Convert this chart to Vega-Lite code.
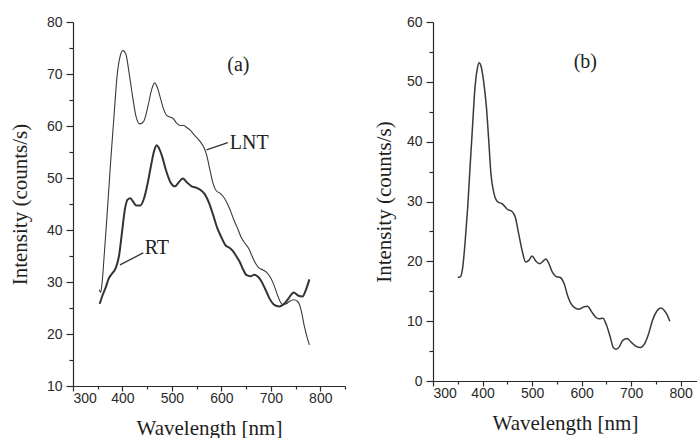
{
  "$schema": "https://vega.github.io/schema/vega-lite/v6.json",
  "padding": {"left": 9, "top": 15, "right": 0, "bottom": 0},
  "background": "white",
  "spacing": 27,
  "config": {
    "view": {"stroke": null},
    "axis": {
      "grid": false,
      "domainColor": "#2a2a2a",
      "tickColor": "#2a2a2a",
      "labelColor": "#2a2a2a",
      "titleColor": "#1e1e1e",
      "labelFont": "Liberation Sans",
      "labelFontSize": 14,
      "titleFont": "Liberation Serif",
      "titleFontSize": 21,
      "titleFontWeight": "normal",
      "domainWidth": 1.2,
      "tickWidth": 1.2
    }
  },
  "datasets": {
    "a": [
      {"wl": 353, "I": 28.5, "s": "LNT"}, {"wl": 356, "I": 28, "s": "LNT"}, {"wl": 359, "I": 30, "s": "LNT"},
      {"wl": 363, "I": 35, "s": "LNT"}, {"wl": 369, "I": 43, "s": "LNT"}, {"wl": 376, "I": 53, "s": "LNT"},
      {"wl": 383, "I": 62, "s": "LNT"}, {"wl": 389, "I": 69.5, "s": "LNT"}, {"wl": 395, "I": 73.3, "s": "LNT"},
      {"wl": 401, "I": 74.5, "s": "LNT"}, {"wl": 407, "I": 73.8, "s": "LNT"}, {"wl": 413, "I": 70.5, "s": "LNT"},
      {"wl": 420, "I": 66, "s": "LNT"}, {"wl": 427, "I": 62, "s": "LNT"}, {"wl": 435, "I": 60.4, "s": "LNT"},
      {"wl": 443, "I": 60.9, "s": "LNT"}, {"wl": 452, "I": 64, "s": "LNT"}, {"wl": 459, "I": 67, "s": "LNT"},
      {"wl": 465, "I": 68.3, "s": "LNT"}, {"wl": 471, "I": 67.3, "s": "LNT"}, {"wl": 477, "I": 65.3, "s": "LNT"},
      {"wl": 483, "I": 63.3, "s": "LNT"}, {"wl": 490, "I": 62, "s": "LNT"}, {"wl": 497, "I": 61.7, "s": "LNT"},
      {"wl": 503, "I": 61.4, "s": "LNT"}, {"wl": 510, "I": 60.5, "s": "LNT"}, {"wl": 517, "I": 60.1, "s": "LNT"},
      {"wl": 524, "I": 60.1, "s": "LNT"}, {"wl": 530, "I": 59.7, "s": "LNT"}, {"wl": 537, "I": 59.2, "s": "LNT"},
      {"wl": 545, "I": 58.3, "s": "LNT"}, {"wl": 552, "I": 57.6, "s": "LNT"}, {"wl": 558, "I": 56.9, "s": "LNT"},
      {"wl": 564, "I": 56, "s": "LNT"}, {"wl": 570, "I": 54.5, "s": "LNT"}, {"wl": 577, "I": 51.5, "s": "LNT"},
      {"wl": 583, "I": 49, "s": "LNT"}, {"wl": 590, "I": 47.5, "s": "LNT"}, {"wl": 597, "I": 47.1, "s": "LNT"},
      {"wl": 604, "I": 46.4, "s": "LNT"}, {"wl": 611, "I": 45.3, "s": "LNT"}, {"wl": 618, "I": 43.8, "s": "LNT"},
      {"wl": 625, "I": 42, "s": "LNT"}, {"wl": 632, "I": 40.5, "s": "LNT"}, {"wl": 640, "I": 38.6, "s": "LNT"},
      {"wl": 648, "I": 37.4, "s": "LNT"}, {"wl": 655, "I": 36.5, "s": "LNT"}, {"wl": 662, "I": 35, "s": "LNT"},
      {"wl": 669, "I": 33.6, "s": "LNT"}, {"wl": 676, "I": 32.7, "s": "LNT"}, {"wl": 684, "I": 32.3, "s": "LNT"},
      {"wl": 692, "I": 31.8, "s": "LNT"}, {"wl": 699, "I": 30.9, "s": "LNT"}, {"wl": 706, "I": 29.5, "s": "LNT"},
      {"wl": 713, "I": 27.6, "s": "LNT"}, {"wl": 719, "I": 26.2, "s": "LNT"}, {"wl": 725, "I": 25.6, "s": "LNT"},
      {"wl": 731, "I": 25.8, "s": "LNT"}, {"wl": 738, "I": 26.3, "s": "LNT"}, {"wl": 746, "I": 26.6, "s": "LNT"},
      {"wl": 754, "I": 26.3, "s": "LNT"}, {"wl": 761, "I": 24.7, "s": "LNT"}, {"wl": 768, "I": 21.4, "s": "LNT"},
      {"wl": 773, "I": 19.5, "s": "LNT"}, {"wl": 778, "I": 17.9, "s": "LNT"},
      {"wl": 354, "I": 25.8, "s": "RT"}, {"wl": 360, "I": 27.5, "s": "RT"}, {"wl": 366, "I": 28.9, "s": "RT"},
      {"wl": 372, "I": 30.6, "s": "RT"}, {"wl": 378, "I": 31.5, "s": "RT"}, {"wl": 386, "I": 32.6, "s": "RT"},
      {"wl": 393, "I": 35, "s": "RT"}, {"wl": 399, "I": 39.5, "s": "RT"}, {"wl": 405, "I": 44, "s": "RT"},
      {"wl": 410, "I": 45.8, "s": "RT"}, {"wl": 416, "I": 46.1, "s": "RT"}, {"wl": 422, "I": 45.4, "s": "RT"},
      {"wl": 428, "I": 44.7, "s": "RT"}, {"wl": 436, "I": 44.7, "s": "RT"}, {"wl": 444, "I": 46.2, "s": "RT"},
      {"wl": 451, "I": 49, "s": "RT"}, {"wl": 458, "I": 52.5, "s": "RT"}, {"wl": 464, "I": 55.2, "s": "RT"},
      {"wl": 469, "I": 56.3, "s": "RT"}, {"wl": 474, "I": 55.7, "s": "RT"}, {"wl": 480, "I": 54.2, "s": "RT"},
      {"wl": 488, "I": 51.5, "s": "RT"}, {"wl": 497, "I": 49.2, "s": "RT"}, {"wl": 506, "I": 48.4, "s": "RT"},
      {"wl": 515, "I": 49.3, "s": "RT"}, {"wl": 522, "I": 49.9, "s": "RT"}, {"wl": 530, "I": 49.2, "s": "RT"},
      {"wl": 540, "I": 48.4, "s": "RT"}, {"wl": 550, "I": 48.1, "s": "RT"}, {"wl": 558, "I": 47.7, "s": "RT"},
      {"wl": 567, "I": 46.8, "s": "RT"}, {"wl": 575, "I": 45.2, "s": "RT"}, {"wl": 583, "I": 43, "s": "RT"},
      {"wl": 592, "I": 40.3, "s": "RT"}, {"wl": 600, "I": 38.6, "s": "RT"}, {"wl": 608, "I": 37.1, "s": "RT"},
      {"wl": 616, "I": 36.6, "s": "RT"}, {"wl": 623, "I": 36, "s": "RT"}, {"wl": 630, "I": 35, "s": "RT"},
      {"wl": 637, "I": 33.9, "s": "RT"}, {"wl": 644, "I": 32.4, "s": "RT"}, {"wl": 651, "I": 31.3, "s": "RT"},
      {"wl": 659, "I": 31.1, "s": "RT"}, {"wl": 667, "I": 31.4, "s": "RT"}, {"wl": 673, "I": 31.1, "s": "RT"},
      {"wl": 680, "I": 30.3, "s": "RT"}, {"wl": 688, "I": 28.8, "s": "RT"}, {"wl": 697, "I": 26.9, "s": "RT"},
      {"wl": 707, "I": 25.6, "s": "RT"}, {"wl": 717, "I": 25.3, "s": "RT"}, {"wl": 727, "I": 25.8, "s": "RT"},
      {"wl": 737, "I": 27, "s": "RT"}, {"wl": 746, "I": 28, "s": "RT"}, {"wl": 755, "I": 27.4, "s": "RT"},
      {"wl": 764, "I": 27.2, "s": "RT"}, {"wl": 771, "I": 28.5, "s": "RT"}, {"wl": 778, "I": 30.5, "s": "RT"}
    ],
    "b": [
      {"wl": 350, "I": 17.3}, {"wl": 355, "I": 17.4}, {"wl": 360, "I": 19}, {"wl": 365, "I": 23.4},
      {"wl": 370, "I": 29}, {"wl": 375, "I": 36}, {"wl": 380, "I": 42.8}, {"wl": 384, "I": 48.2},
      {"wl": 389, "I": 52}, {"wl": 393, "I": 53.2}, {"wl": 397, "I": 52.6}, {"wl": 402, "I": 50.2},
      {"wl": 408, "I": 45.6}, {"wl": 413, "I": 39.6}, {"wl": 417, "I": 34.6}, {"wl": 423, "I": 31.4},
      {"wl": 430, "I": 30}, {"wl": 440, "I": 29.6}, {"wl": 450, "I": 28.7}, {"wl": 460, "I": 28.3},
      {"wl": 466, "I": 27.4}, {"wl": 473, "I": 24.6}, {"wl": 480, "I": 21.8}, {"wl": 487, "I": 19.9},
      {"wl": 494, "I": 20.2}, {"wl": 500, "I": 20.9}, {"wl": 508, "I": 20}, {"wl": 515, "I": 19.6},
      {"wl": 522, "I": 20}, {"wl": 528, "I": 20.4}, {"wl": 534, "I": 19.6}, {"wl": 541, "I": 18.2},
      {"wl": 548, "I": 17.5}, {"wl": 557, "I": 17.3}, {"wl": 565, "I": 16.2}, {"wl": 572, "I": 14.2},
      {"wl": 578, "I": 13}, {"wl": 585, "I": 12.3}, {"wl": 595, "I": 12}, {"wl": 605, "I": 12.4},
      {"wl": 612, "I": 12.5}, {"wl": 620, "I": 11.6}, {"wl": 628, "I": 10.7}, {"wl": 635, "I": 10.4},
      {"wl": 643, "I": 10.5}, {"wl": 650, "I": 9.4}, {"wl": 658, "I": 7.3}, {"wl": 664, "I": 5.6},
      {"wl": 670, "I": 5.3}, {"wl": 676, "I": 5.7}, {"wl": 683, "I": 6.8}, {"wl": 692, "I": 7.1},
      {"wl": 700, "I": 6.5}, {"wl": 710, "I": 5.8}, {"wl": 719, "I": 5.6}, {"wl": 727, "I": 6.2},
      {"wl": 735, "I": 7.8}, {"wl": 743, "I": 10.1}, {"wl": 752, "I": 11.7}, {"wl": 760, "I": 12.2},
      {"wl": 767, "I": 11.8}, {"wl": 773, "I": 11}, {"wl": 778, "I": 10}
    ],
    "notesA": [
      {"wl": 612, "I": 71.7, "label": "(a)"},
      {"wl": 617, "I": 56.8, "label": "LNT"},
      {"wl": 445, "I": 36.6, "label": "RT"}
    ],
    "leadA": [
      {"x1": 570, "y1": 55.4, "x2": 613, "y2": 56.8},
      {"x1": 395, "y1": 33.3, "x2": 442, "y2": 35.6}
    ],
    "notesB": [
      {"wl": 584, "I": 53.3, "label": "(b)"}
    ]
  },
  "hconcat": [
    {
      "width": 272,
      "height": 364,
      "resolve": {"axis": {"x": "independent", "y": "independent"}},
      "layer": [
        {
          "data": {"name": "a"},
          "transform": [{"filter": "datum.s === 'LNT'"}],
          "mark": {"type": "line", "color": "#3a3a3a", "strokeWidth": 1.1, "interpolate": "monotone"},
          "encoding": {
            "x": {"field": "wl", "type": "quantitative", "scale": {"domain": [300, 850], "nice": false},
                  "axis": {"values": [300, 400, 500, 600, 700, 800], "tickSize": 5, "labelPadding": 0, "title": "Wavelength [nm]", "titlePadding": 12, "orient": "bottom"}},
            "y": {"field": "I", "type": "quantitative", "scale": {"domain": [10, 80], "nice": false, "zero": false},
                  "axis": {"values": [10, 20, 30, 40, 50, 60, 70, 80], "tickSize": 7, "labelPadding": 4, "title": "Intensity (counts/s)", "titlePadding": 16, "orient": "left"}}
          }
        },
        {
          "data": {"name": "a"},
          "transform": [{"filter": "datum.s === 'RT'"}],
          "mark": {"type": "line", "color": "#333333", "strokeWidth": 2, "interpolate": "monotone"},
          "encoding": {
            "x": {"field": "wl", "type": "quantitative", "axis": null},
            "y": {"field": "I", "type": "quantitative", "axis": null}
          }
        },
        {
          "data": {"name": "a"},
          "mark": {"type": "line", "strokeOpacity": 0},
          "encoding": {
            "x": {"field": "wl", "type": "quantitative",
                  "axis": {"values": [350, 450, 550, 650, 750, 850], "labels": false, "domain": false, "tickSize": 3, "title": null, "orient": "bottom"}},
            "y": {"field": "I", "type": "quantitative",
                  "axis": {"values": [15, 25, 35, 45, 55, 65, 75], "labels": false, "domain": false, "tickSize": 4, "title": null, "orient": "left"}}
          }
        },
        {
          "data": {"name": "leadA"},
          "mark": {"type": "rule", "color": "#333", "strokeWidth": 1.3},
          "encoding": {
            "x": {"field": "x1", "type": "quantitative", "axis": null},
            "y": {"field": "y1", "type": "quantitative", "axis": null},
            "x2": {"field": "x2"},
            "y2": {"field": "y2"}
          }
        },
        {
          "data": {"name": "notesA"},
          "mark": {"type": "text", "font": "Liberation Serif", "fontSize": 20, "align": "left", "baseline": "middle", "color": "#222"},
          "encoding": {
            "x": {"field": "wl", "type": "quantitative", "axis": null},
            "y": {"field": "I", "type": "quantitative", "axis": null},
            "text": {"field": "label"}
          }
        }
      ]
    },
    {
      "width": 264,
      "height": 359,
      "resolve": {"axis": {"x": "independent", "y": "independent"}},
      "layer": [
        {
          "data": {"name": "b"},
          "mark": {"type": "line", "color": "#3a3a3a", "strokeWidth": 1.5, "interpolate": "monotone"},
          "encoding": {
            "x": {"field": "wl", "type": "quantitative", "scale": {"domain": [300, 833], "nice": false},
                  "axis": {"values": [300, 400, 500, 600, 700, 800], "tickSize": 5, "labelPadding": 0, "title": "Wavelength [nm]", "titlePadding": 12, "orient": "bottom"}},
            "y": {"field": "I", "type": "quantitative", "scale": {"domain": [0, 60], "nice": false},
                  "axis": {"values": [0, 10, 20, 30, 40, 50, 60], "tickSize": 7, "labelPadding": 4, "title": "Intensity (counts/s)", "titlePadding": 12, "orient": "left"}}
          }
        },
        {
          "data": {"name": "b"},
          "mark": {"type": "line", "strokeOpacity": 0},
          "encoding": {
            "x": {"field": "wl", "type": "quantitative",
                  "axis": {"values": [350, 450, 550, 650, 750], "labels": false, "domain": false, "tickSize": 3, "title": null, "orient": "bottom"}},
            "y": {"field": "I", "type": "quantitative",
                  "axis": {"values": [5, 15, 25, 35, 45, 55], "labels": false, "domain": false, "tickSize": 4, "title": null, "orient": "left"}}
          }
        },
        {
          "data": {"name": "notesB"},
          "mark": {"type": "text", "font": "Liberation Serif", "fontSize": 20, "align": "left", "baseline": "middle", "color": "#222"},
          "encoding": {
            "x": {"field": "wl", "type": "quantitative", "axis": null},
            "y": {"field": "I", "type": "quantitative", "axis": null},
            "text": {"field": "label"}
          }
        }
      ]
    }
  ]
}
